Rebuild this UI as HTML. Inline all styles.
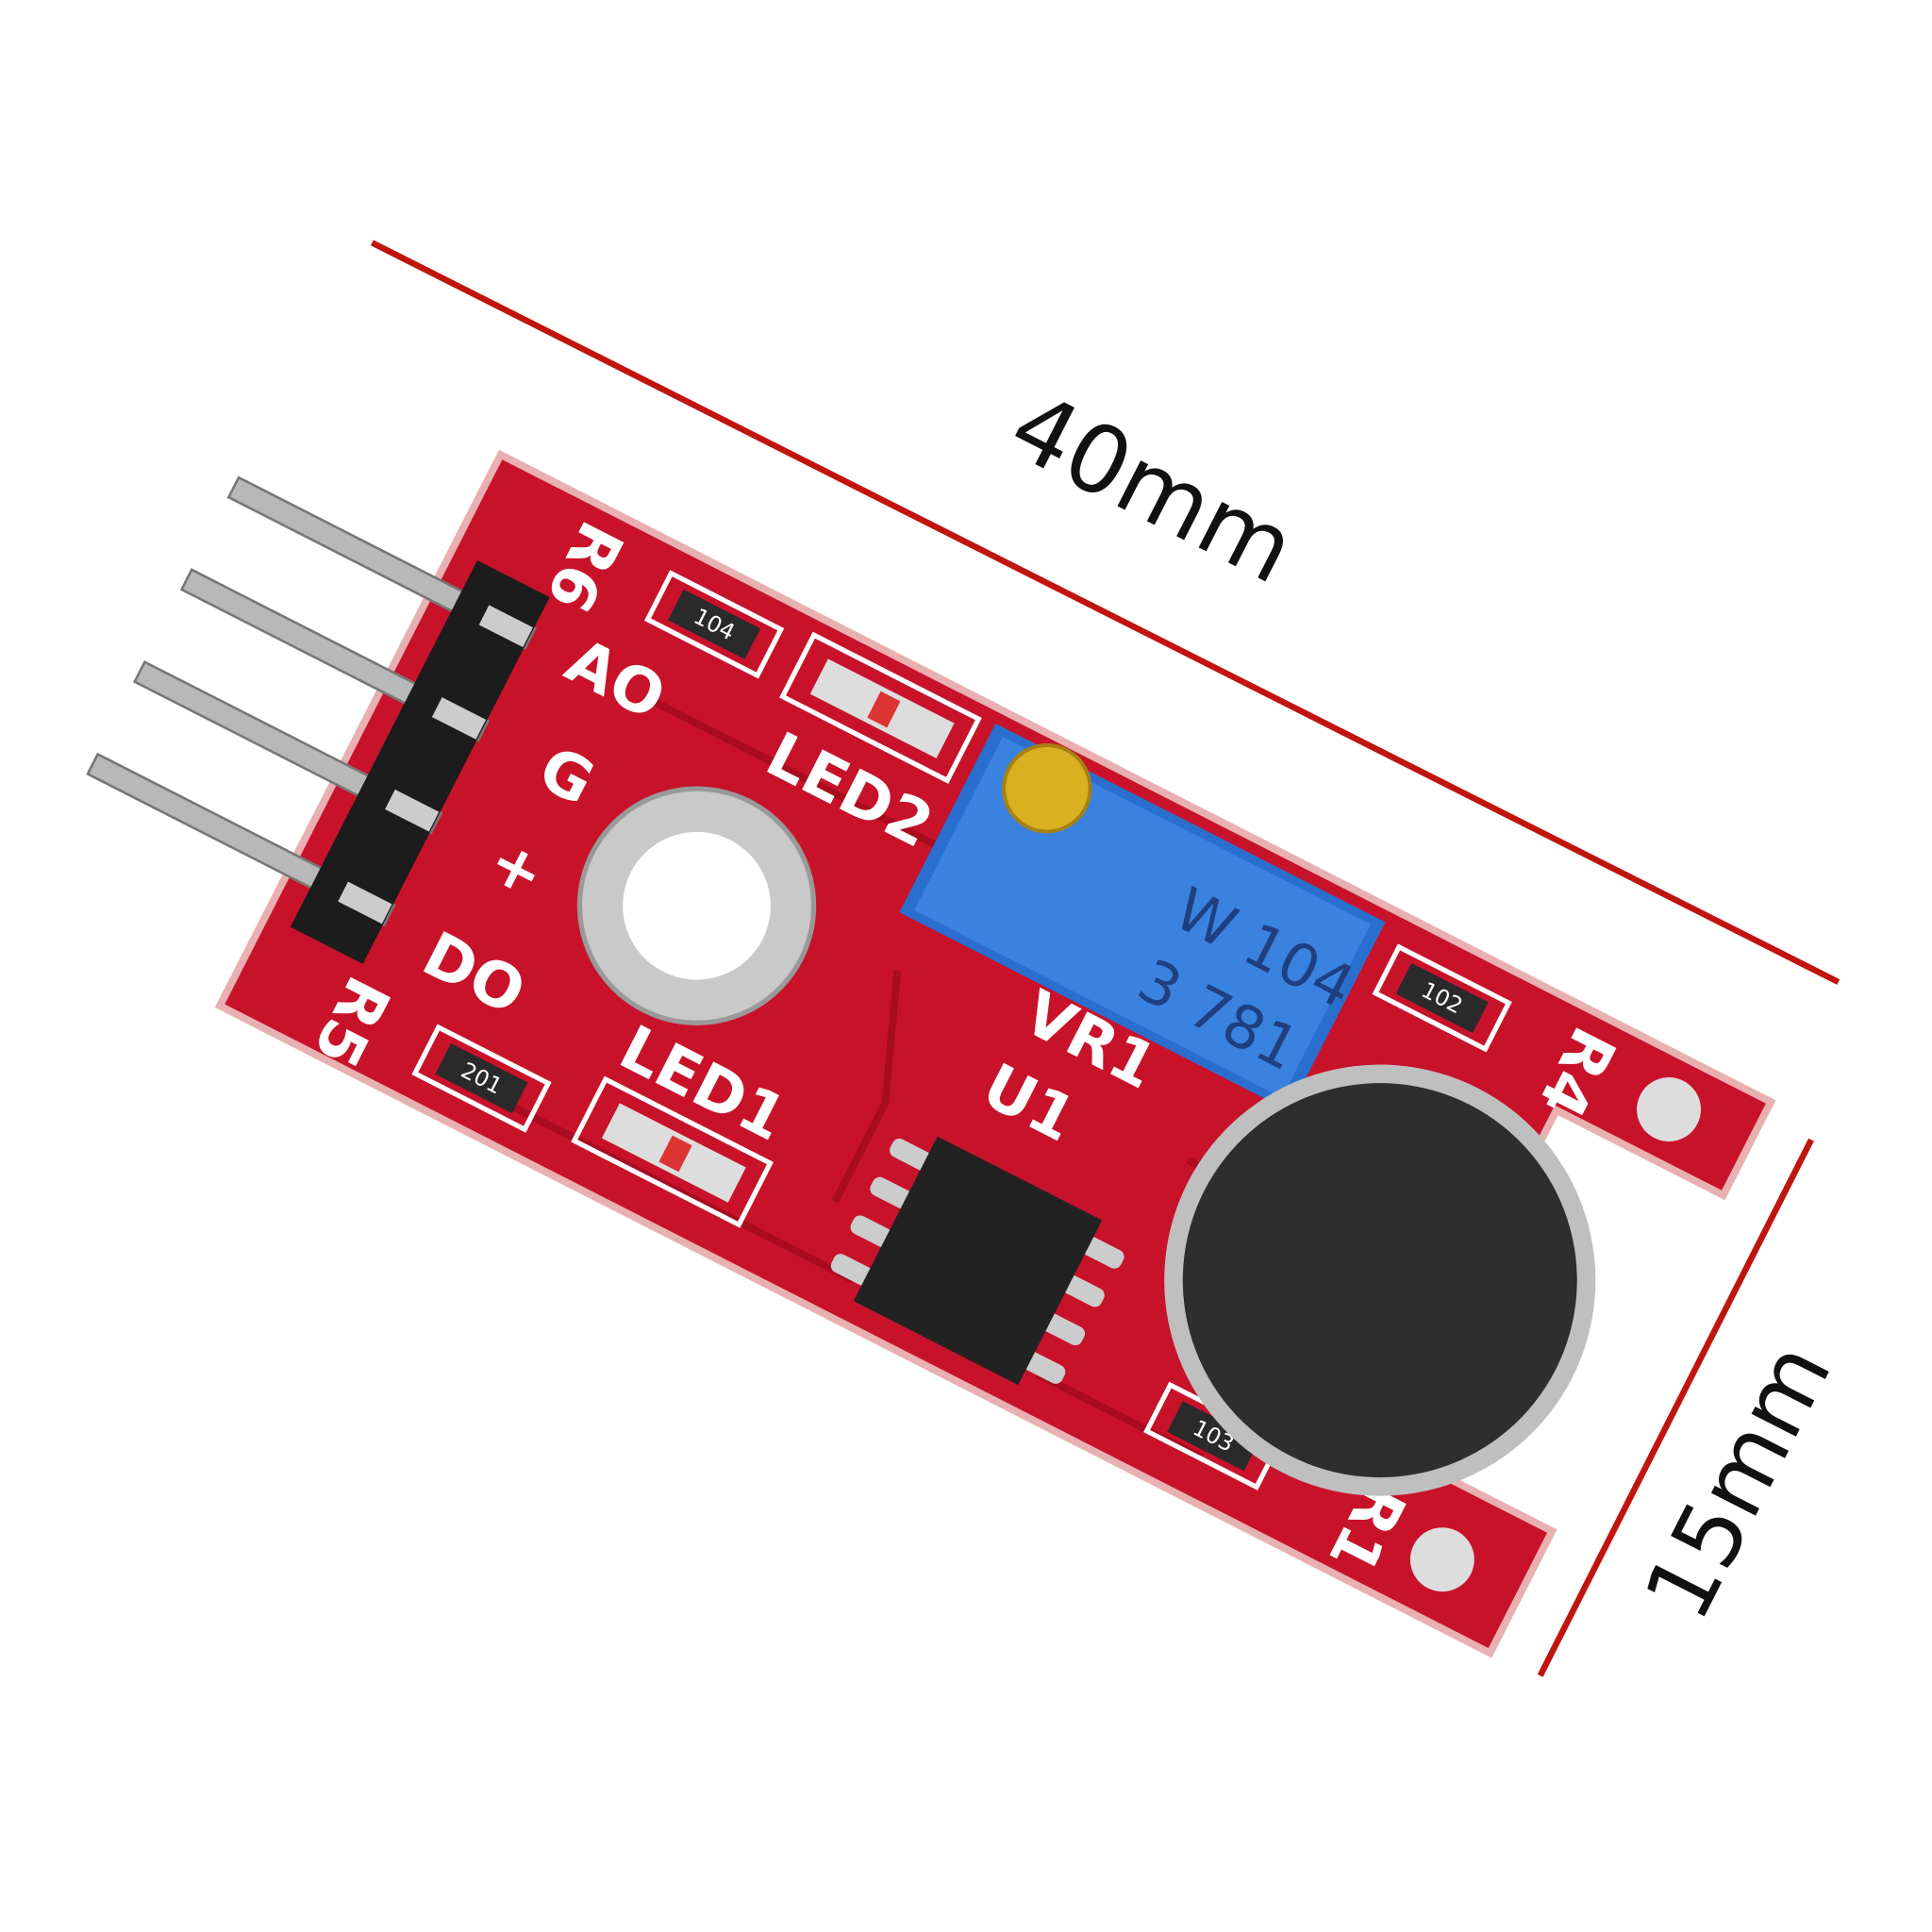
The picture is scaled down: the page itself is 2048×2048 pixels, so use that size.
<!DOCTYPE html>
<html><head><meta charset="utf-8"><style>html,body{margin:0;padding:0;background:#fff}svg{display:block}</style></head>
<body>
<svg width="2048" height="2048" viewBox="0 0 1568 1568" xmlns="http://www.w3.org/2000/svg" font-family="'DejaVu Sans','Liberation Sans',sans-serif">
<rect width="1568" height="1568" fill="#fff"/>
<line x1="302" y1="197" x2="1492" y2="797" stroke="#c0150f" stroke-width="5"/>
<line x1="1470" y1="925" x2="1250" y2="1360" stroke="#c0150f" stroke-width="5"/>
<text x="935" y="422" font-size="76" fill="#111" text-anchor="middle" transform="rotate(27 935 397)">40mm</text>
<text x="1410" y="1228" font-size="74" fill="#111" text-anchor="middle" transform="rotate(-63 1410 1202)">15mm</text>

<g transform="translate(405,365) rotate(27)">
  <path d="M0,0 H1163 V91 H1011 V391 H1163 V508 H0 Z" fill="#e8b0b0"/>
  <path d="M6,6 H1157 V85 H1005 V397 H1157 V502 H6 Z" fill="#c8122a"/>
  <g stroke="#a80c1e" stroke-width="6" fill="none">
    <path d="M200,125 H470"/><path d="M240,470 H560 L600,420"/>
    <path d="M480,230 L520,330 V420"/><path d="M760,260 H900"/>
    <path d="M820,200 V260"/><path d="M730,470 H880"/>
  </g>
  <g fill="#b8b8b8" stroke="#777" stroke-width="2">
    <rect x="-178" y="116" width="270" height="18"/>
    <rect x="-178" y="200" width="270" height="18"/>
    <rect x="-178" y="284" width="270" height="18"/>
    <rect x="-178" y="368" width="270" height="18"/>
  </g>
  <rect x="25" y="88" width="66" height="334" fill="#1c1c1c"/>
  <g fill="#ccc"><rect x="50" y="116" width="40" height="18"/><rect x="50" y="200" width="40" height="18"/><rect x="50" y="284" width="40" height="18"/><rect x="50" y="368" width="40" height="18"/></g>
  <g fill="#fff" font-size="50" font-weight="bold" text-anchor="middle">
    <text x="169" y="140">AO</text><text x="169" y="228">G</text>
    <text x="167" y="313">+</text><text x="175" y="405">DO</text>
    <text transform="translate(105,53) rotate(90)" y="17">R6</text>
    <text transform="translate(104,468) rotate(90)" y="17">R5</text>
    <text x="379" y="134">LED2</text><text x="381" y="400">LED1</text>
    <text x="624" y="294">U1</text><text x="645" y="226">VR1</text>
    <text transform="translate(1009,53) rotate(90)" y="17">R4</text>
    <text transform="translate(1025,460) rotate(90)" y="17">R1</text>
  </g>
  <circle cx="311" cy="257" r="95" fill="#c9c9c9" stroke="#999" stroke-width="4"/>
  <circle cx="311" cy="257" r="60" fill="#fff"/>
  <g stroke="#fff" stroke-width="4" fill="none">
    <rect x="170" y="26" width="100" height="42"/><rect x="169" y="440" width="100" height="42"/>
    <rect x="834" y="28" width="100" height="42"/><rect x="830" y="429" width="100" height="42"/>
    <rect x="296" y="18" width="150" height="56"/><rect x="309" y="416" width="150" height="56"/>
  </g>
  <g fill="#2a2a2a"><rect x="185" y="33" width="70" height="28"/><rect x="184" y="447" width="70" height="28"/><rect x="849" y="35" width="70" height="28"/><rect x="845" y="436" width="70" height="28"/></g>
  <g fill="#fff" font-size="18" text-anchor="middle"><text x="220" y="53">104</text><text x="219" y="467">201</text><text x="884" y="55">102</text><text x="880" y="456">103</text></g>
  <g fill="#ddd"><rect x="315" y="30" width="115" height="32"/><rect x="328" y="428" width="115" height="32"/></g>
  <rect x="365" y="34" width="18" height="24" fill="#d33"/><rect x="378" y="432" width="18" height="24" fill="#d33"/>
  <rect x="460" y="15" width="355" height="172" fill="#2a6fd0"/>
  <rect x="470" y="22" width="335" height="158" fill="#3a82e0"/>
  <circle cx="521" cy="43" r="35" fill="#d8b020" stroke="#a88010" stroke-width="3"/>
  <text x="660" y="95" font-size="48" fill="#1f3f80">W 104</text>
  <text x="660" y="160" font-size="48" fill="#1f3f80">3 781</text>
  <g fill="#ccc"><rect x="540" y="350" width="35" height="16" rx="6"/><rect x="540" y="385" width="35" height="16" rx="6"/><rect x="540" y="420" width="35" height="16" rx="6"/><rect x="540" y="455" width="35" height="16" rx="6"/>
  <rect x="715" y="350" width="35" height="16" rx="6"/><rect x="715" y="385" width="35" height="16" rx="6"/><rect x="715" y="420" width="35" height="16" rx="6"/><rect x="715" y="455" width="35" height="16" rx="6"/></g>
  <rect x="570" y="335" width="150" height="150" fill="#222"/>
  <circle cx="1089" cy="46" r="26" fill="#ddd"/><circle cx="1091" cy="455" r="26" fill="#ddd"/>
  <circle cx="943" cy="276" r="175" fill="#bfbfbf"/>
  <circle cx="943" cy="276" r="160" fill="#2e2e2e"/>
</g>
</svg>
</body></html>
